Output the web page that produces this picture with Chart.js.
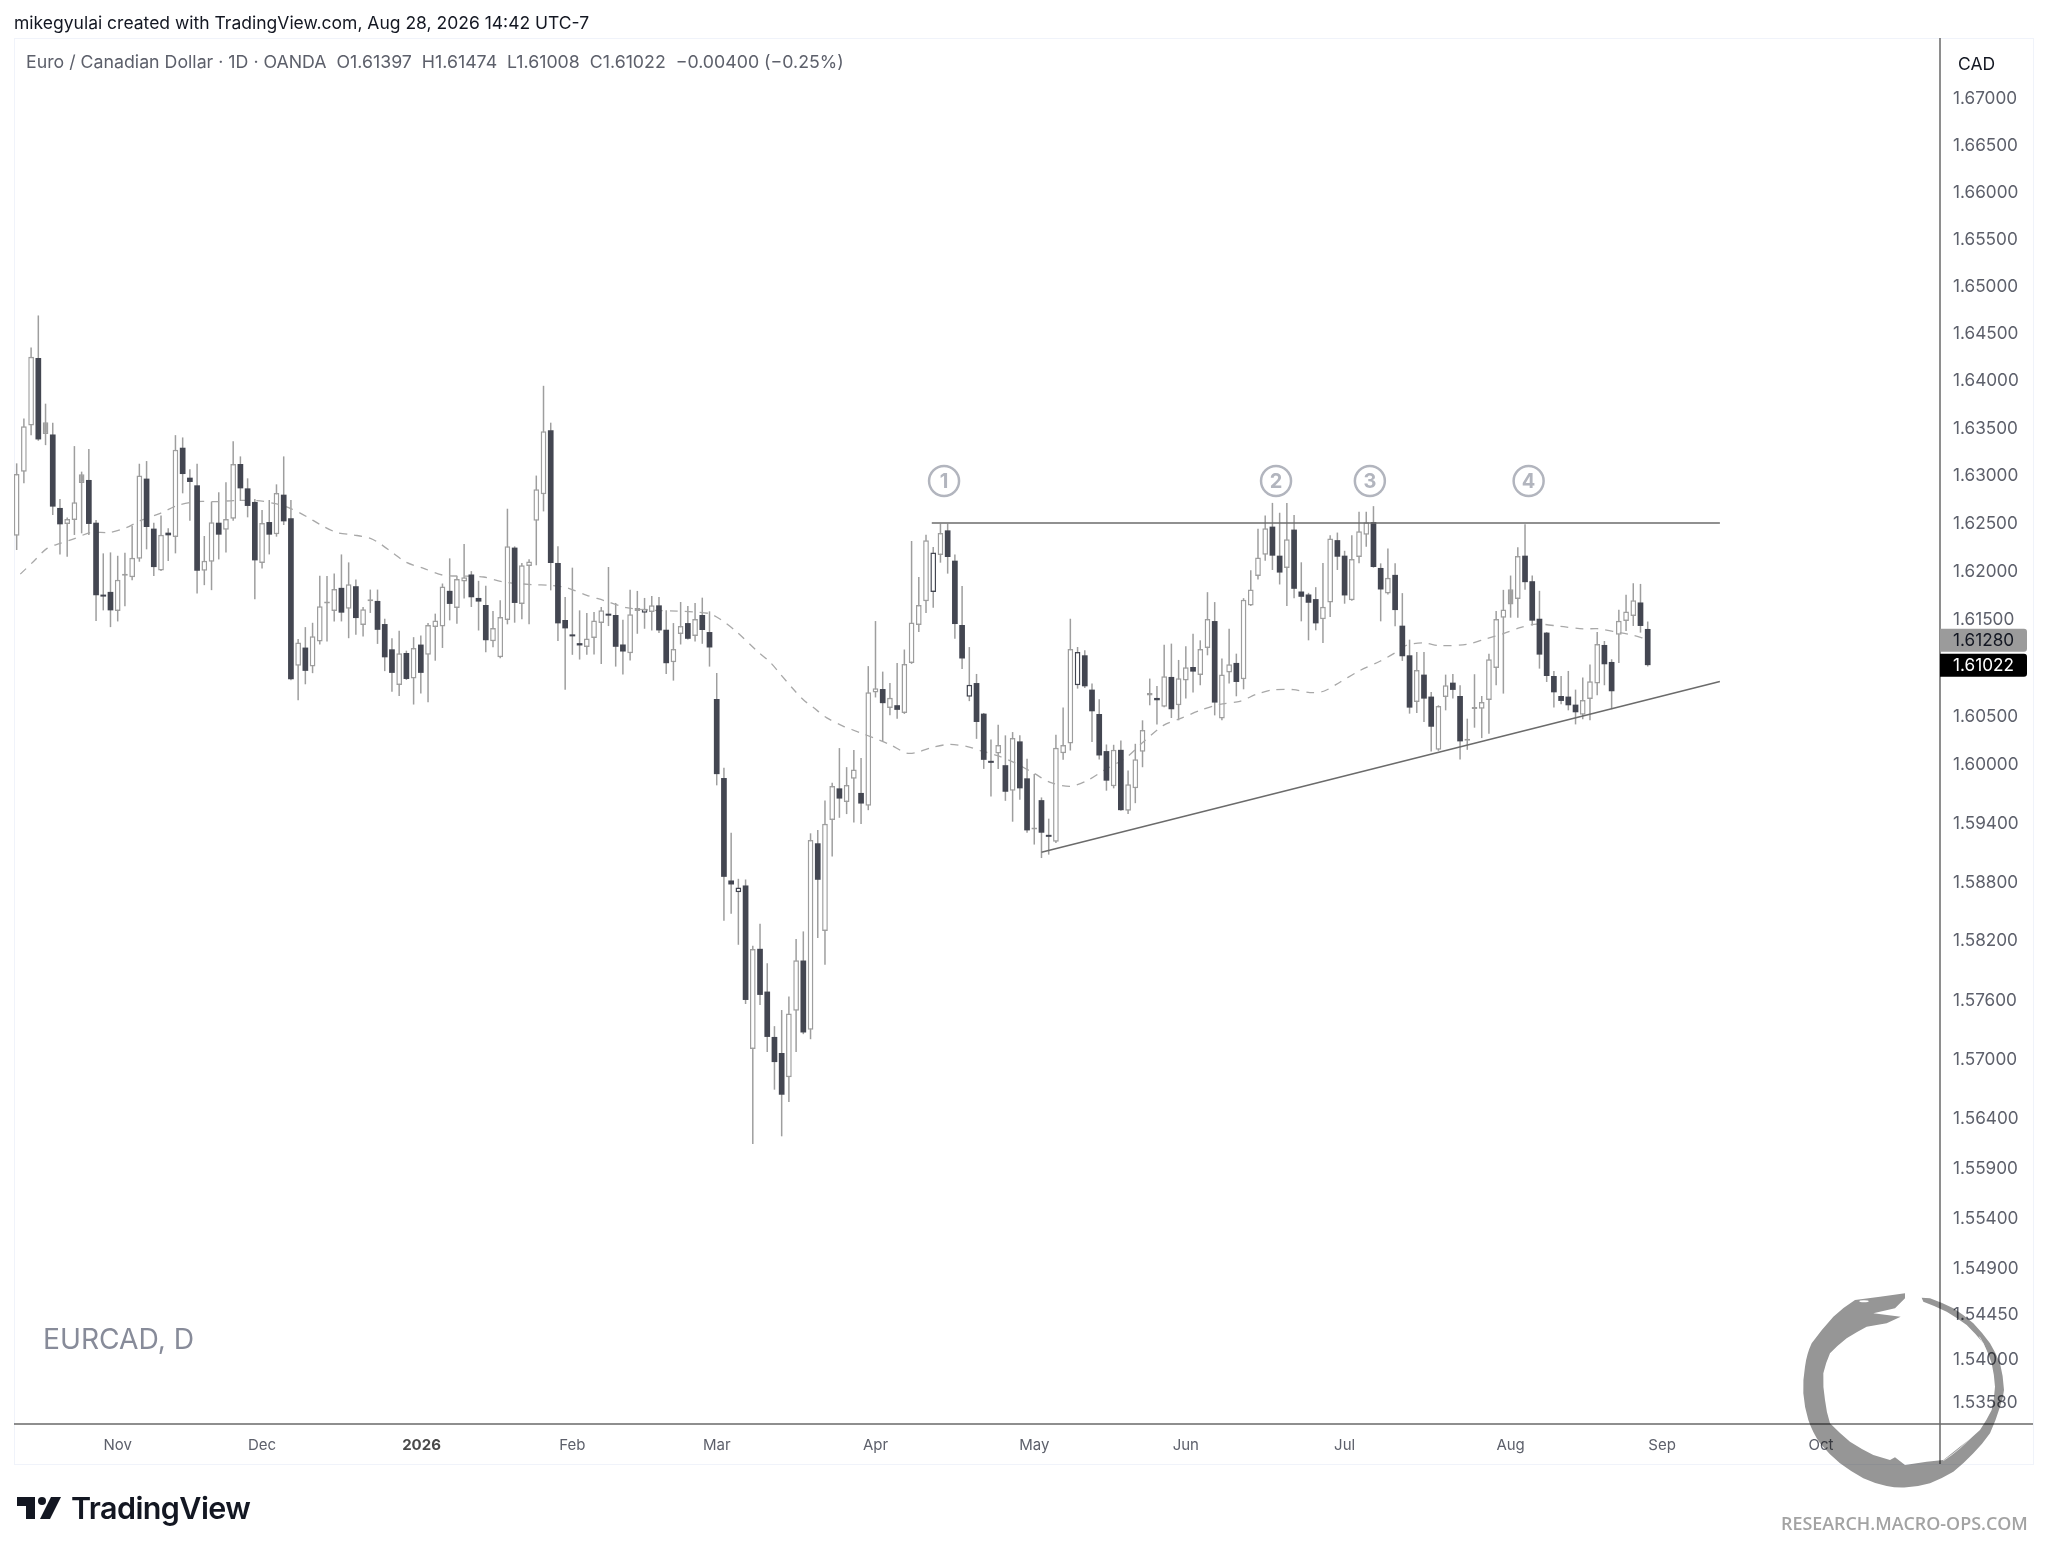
<!DOCTYPE html>
<html lang="en">

<head>
    <meta charset="UTF-8">
    <title>EURCAD, D</title>
    <script src="https://cdn.jsdelivr.net/npm/chart.js"></script>
    <style>
        html, body { margin: 0; padding: 0; background: #fff; }
        body { position: relative; width: 2048px; height: 1553px; overflow: hidden; font-family: Inter, sans-serif; }
        canvas { position: absolute; left: 0; top: 0; }
        .txt { position: absolute; white-space: nowrap; }
        #frame { position: absolute; left: 14px; top: 38px; width: 2018px; height: 1425px; border: 1px solid #f0f3fa; }
        #logo, #tvIcon { position: absolute; }
        #logo { left: 1740px; top: 1250px; mix-blend-mode: multiply; }
    </style>
</head>

<body>
    <div id="frame"></div>
    <canvas id="chart" width="2048" height="1553"></canvas>

    <div class="txt" style="left:14px;top:13px;font-size:17.5px;line-height:20px;color:#131722;">mikegyulai created with TradingView.com, Aug 28, 2026 14:42 UTC-7</div>
    <div class="txt" style="left:26px;top:52px;font-size:17.75px;line-height:20px;color:#5d606b;">Euro / Canadian Dollar · 1D · OANDA&nbsp; O1.61397&nbsp; H1.61474&nbsp; L1.61008&nbsp; C1.61022&nbsp; −0.00400 (−0.25%)</div>
    <div class="txt" style="left:1958px;top:54px;font-size:17.5px;line-height:20px;color:#131722;">CAD</div>
    <div class="txt" style="left:43px;top:1321px;font-size:28.2px;line-height:36px;color:#878b99;">EURCAD, D</div>

    <svg id="tvIcon" style="left:17px;top:1496px" width="46" height="24" viewBox="0 0 46 24">
        <path d="M0 1H18V23H9V10H0Z M44 1L33 23H23L34 1Z" fill="#131722" />
        <circle cx="25" cy="5" r="4" fill="#131722" />
    </svg>
    <div class="txt" style="left:71px;top:1488px;font-size:30.5px;line-height:40px;font-weight:600;letter-spacing:-0.6px;color:#131722;">TradingView</div>
    <div class="txt" style="left:1781px;top:1512px;font-family:'Open Sans',sans-serif;font-size:17.9px;line-height:22px;font-weight:600;color:#a3a3a3;">RESEARCH.MACRO-OPS.COM</div>

    <svg id="logo" width="308" height="303" viewBox="0 0 924 909">
        <path fill="#969696" d="M495 130 L420 140 L345 150 Q310 172 280 200 Q245 238 215 280 Q200 312 195 350 Q188 390 190 430 Q193 472 205 510 Q218 548 240 580 Q267 613 300 640 Q333 665 370 685 Q404 701 440 708 Q470 714 500 712 Q536 710 570 700 Q606 685 640 665 Q672 640 700 610 Q728 582 750 550 Q768 510 780 470 Q790 445 792 420 Q790 378 780 340 Q767 308 750 280 Q727 248 700 220 Q672 195 640 175 Q606 158 570 145 L545 143 L550 155 Q586 168 620 185 Q651 203 680 225 Q707 251 730 280 Q745 309 755 340 Q763 375 765 410 Q763 446 755 480 Q740 511 720 540 Q692 567 660 590 L610 630 L560 635 L495 645 L465 622 L450 630 L400 615 Q364 597 330 575 Q298 549 270 520 Q259 486 255 450 Q248 410 250 370 Q257 339 270 310 Q293 286 320 265 Q349 246 380 230 L440 220 L482 200 L400 190 L465 175 L495 145 Z" />
        <ellipse cx="372" cy="154" rx="14" ry="3" fill="#fff" />
        <path d="M718 260 Q770 340 745 470 Q720 560 610 632" fill="none" stroke="#fff" stroke-width="2" />
    </svg>

    <script>
        // candles, oldest first (x position = index in the arrays)
        const opens = [
            1.62368, 1.63037, 1.63521, 1.64232, 1.63431, 1.63427, 1.62657, 1.62490, 1.62531, 1.62918,
            1.62950, 1.62503, 1.61740, 1.61782, 1.61583, 1.61949, 1.61935, 1.62127, 1.62964, 1.62441,
            1.62005, 1.62399, 1.62354, 1.63288, 1.62974, 1.62894, 1.62002, 1.62096, 1.62503, 1.62430,
            1.62545, 1.63117, 1.62862, 1.62720, 1.62082, 1.62510, 1.62382, 1.62796, 1.62549, 1.61015,
            1.61204, 1.61008, 1.61266, 1.61660, 1.61583, 1.61824, 1.61608, 1.61841, 1.61437, 1.61685,
            1.61688, 1.61448, 1.61186, 1.60817, 1.61148, 1.60883, 1.61235, 1.61130, 1.61416, 1.61423,
            1.61793, 1.61615, 1.61890, 1.61963, 1.61719, 1.61646, 1.61270, 1.61104, 1.61490, 1.62243,
            1.61656, 1.62052, 1.62524, 1.62801, 1.63471, 1.62083, 1.61490, 1.61333, 1.61250, 1.61209,
            1.61302, 1.61458, 1.61542, 1.61542, 1.61236, 1.61146, 1.61583, 1.61566, 1.61573, 1.61642,
            1.61389, 1.61052, 1.61344, 1.61458, 1.61323, 1.61542, 1.61365, 1.60672, 1.59858, 1.58809,
            1.58690, 1.58758, 1.57098, 1.58113, 1.57679, 1.57220, 1.57058, 1.56813, 1.57485, 1.57994,
            1.57292, 1.59189, 1.58293, 1.59427, 1.59752, 1.59613, 1.59851, 1.59705, 1.59573, 1.60740,
            1.60775, 1.60580, 1.60608, 1.60528, 1.61045, 1.61438, 1.61684, 1.61781, 1.62166, 1.62423,
            1.62107, 1.61438, 1.60695, 1.60837, 1.60521, 1.60035, 1.60110, 1.59990, 1.59728, 1.60235,
            1.59855, 1.59331, 1.59631, 1.59266, 1.59204, 1.60114, 1.60214, 1.60814, 1.61124, 1.60769,
            1.60517, 1.60135, 1.59773, 1.60148, 1.59521, 1.59752, 1.60128, 1.60707, 1.60683, 1.60593,
            1.60900, 1.60607, 1.60862, 1.61003, 1.60921, 1.61200, 1.61479, 1.60472, 1.60945, 1.61045,
            1.60876, 1.61641, 1.61948, 1.62169, 1.62462, 1.62159, 1.62031, 1.62431, 1.61786, 1.61755,
            1.61707, 1.61497, 1.61672, 1.62321, 1.62159, 1.61696, 1.62145, 1.62376, 1.62510, 1.62031,
            1.61765, 1.61959, 1.61431, 1.61124, 1.60641, 1.60924, 1.60697, 1.60148, 1.60693, 1.60841,
            1.60703, 1.60241, 1.60569, 1.60572, 1.60662, 1.60993, 1.61514, 1.61652, 1.61707, 1.62159,
            1.61893, 1.61503, 1.61359, 1.60910, 1.60703, 1.60697, 1.60614, 1.60510, 1.60672, 1.60831,
            1.61231, 1.61055, 1.61338, 1.61479, 1.61531, 1.61672, 1.61397
        ];
        const highs = [
            1.63124, 1.63594, 1.64344, 1.64682, 1.63751, 1.63549, 1.62751, 1.62556, 1.63305, 1.63037,
            1.63274, 1.62531, 1.62183, 1.62193, 1.62158, 1.62190, 1.62472, 1.63120, 1.63148, 1.62503,
            1.62577, 1.62444, 1.63420, 1.63396, 1.63061, 1.63120, 1.62364, 1.62723, 1.62821, 1.62925,
            1.63357, 1.63197, 1.62967, 1.62751, 1.62636, 1.62740, 1.62904, 1.63197, 1.62740, 1.61294,
            1.61416, 1.61461, 1.61949, 1.61946, 1.61974, 1.62172, 1.62089, 1.61911, 1.61625, 1.61806,
            1.61806, 1.61503, 1.61301, 1.61378, 1.61172, 1.61312, 1.61329, 1.61458, 1.61556, 1.61869,
            1.62131, 1.61946, 1.62280, 1.61998, 1.61897, 1.61845, 1.61583, 1.61694, 1.62649, 1.62256,
            1.62083, 1.62121, 1.62996, 1.63939, 1.63551, 1.62256, 1.61729, 1.62034, 1.61590, 1.61562,
            1.61573, 1.61625, 1.62041, 1.61667, 1.61493, 1.61805, 1.61792, 1.61719, 1.61739, 1.61729,
            1.61590, 1.61458, 1.61677, 1.61635, 1.61667, 1.61722, 1.61580, 1.60941, 1.59963, 1.59298,
            1.58826, 1.58819, 1.58144, 1.58368, 1.57967, 1.57329, 1.57492, 1.57628, 1.58212, 1.58290,
            1.59291, 1.59325, 1.59627, 1.59810, 1.60166, 1.59970, 1.60146, 1.60065, 1.61012, 1.61479,
            1.60955, 1.60837, 1.61045, 1.61184, 1.62312, 1.61937, 1.62378, 1.62250, 1.62492, 1.62492,
            1.62170, 1.61844, 1.61209, 1.60931, 1.60528, 1.60255, 1.60407, 1.60297, 1.60331, 1.60297,
            1.60055, 1.59900, 1.59659, 1.59441, 1.60303, 1.60583, 1.61503, 1.61210, 1.61176, 1.60831,
            1.60669, 1.60203, 1.60200, 1.60245, 1.59935, 1.60210, 1.60452, 1.60883, 1.60807, 1.61234,
            1.61245, 1.61076, 1.61217, 1.61348, 1.61279, 1.61779, 1.61676, 1.61090, 1.61400, 1.61141,
            1.61717, 1.62007, 1.62441, 1.62579, 1.62710, 1.62607, 1.62710, 1.62583, 1.62090, 1.61772,
            1.61831, 1.62083, 1.62372, 1.62400, 1.62210, 1.62372, 1.62617, 1.62617, 1.62676, 1.62079,
            1.62234, 1.62079, 1.61769, 1.61286, 1.61159, 1.61159, 1.60745, 1.60607, 1.60924, 1.60931,
            1.60814, 1.60469, 1.60928, 1.60703, 1.61141, 1.61583, 1.61803, 1.61952, 1.62248, 1.62486,
            1.61952, 1.61793, 1.61365, 1.60962, 1.60910, 1.60962, 1.60769, 1.60893, 1.61028, 1.61365,
            1.61272, 1.61083, 1.61596, 1.61752, 1.61872, 1.61865, 1.61474
        ];
        const lows = [
            1.62218, 1.62915, 1.63420, 1.63361, 1.63315, 1.62584, 1.62172, 1.62148, 1.62375, 1.62392,
            1.62375, 1.61479, 1.61590, 1.61416, 1.61475, 1.61632, 1.61904, 1.62096, 1.62225, 1.61946,
            1.61998, 1.62103, 1.62183, 1.62810, 1.62524, 1.61765, 1.61852, 1.61800, 1.62120, 1.62193,
            1.62524, 1.62730, 1.62559, 1.61705, 1.62026, 1.62172, 1.62357, 1.62479, 1.60866, 1.60660,
            1.60824, 1.60939, 1.61235, 1.61266, 1.61475, 1.61475, 1.61301, 1.61336, 1.61319, 1.61563,
            1.61242, 1.60960, 1.60747, 1.60702, 1.60869, 1.60615, 1.60730, 1.60639, 1.61068, 1.61200,
            1.61486, 1.61451, 1.61712, 1.61625, 1.61381, 1.61155, 1.61207, 1.61094, 1.61445, 1.61462,
            1.61497, 1.61445, 1.62059, 1.62621, 1.61798, 1.61271, 1.60768, 1.61129, 1.61080, 1.61129,
            1.61132, 1.61035, 1.61427, 1.61007, 1.60924, 1.61070, 1.61347, 1.61399, 1.61382, 1.61354,
            1.60931, 1.60862, 1.61236, 1.61288, 1.61268, 1.61243, 1.61007, 1.59783, 1.58398, 1.58469,
            1.58154, 1.57553, 1.56141, 1.57543, 1.57068, 1.56688, 1.56219, 1.56565, 1.57068, 1.57248,
            1.57197, 1.58222, 1.57950, 1.59053, 1.59450, 1.59488, 1.59403, 1.59386, 1.59528, 1.60688,
            1.60237, 1.60504, 1.60469, 1.60518, 1.61035, 1.61365, 1.61562, 1.61618, 1.62086, 1.61972,
            1.61295, 1.60983, 1.60650, 1.60261, 1.59952, 1.59669, 1.59952, 1.59624, 1.59410, 1.59635,
            1.59297, 1.59176, 1.59038, 1.59073, 1.59193, 1.60045, 1.60141, 1.60779, 1.60786, 1.60228,
            1.60048, 1.59728, 1.59752, 1.59521, 1.59490, 1.59600, 1.59969, 1.60607, 1.60410, 1.60586,
            1.60476, 1.60452, 1.60676, 1.60738, 1.60814, 1.61124, 1.60503, 1.60452, 1.60831, 1.60700,
            1.60772, 1.61634, 1.61910, 1.62107, 1.62010, 1.61859, 1.61634, 1.61717, 1.61476, 1.61279,
            1.61383, 1.61252, 1.61521, 1.62010, 1.61659, 1.61690, 1.62079, 1.62252, 1.62034, 1.61476,
            1.61755, 1.61424, 1.61066, 1.60521, 1.60528, 1.60435, 1.60131, 1.60138, 1.60555, 1.60676,
            1.60048, 1.60148, 1.60376, 1.60269, 1.60314, 1.60814, 1.60728, 1.61514, 1.61514, 1.61803,
            1.61434, 1.60986, 1.60848, 1.60583, 1.60617, 1.60555, 1.60410, 1.60462, 1.60452, 1.60710,
            1.60814, 1.60566, 1.61045, 1.61376, 1.61428, 1.61359, 1.61008
        ];
        const closes = [
            1.63012, 1.63514, 1.64246, 1.63375, 1.63556, 1.62671, 1.62486, 1.62542, 1.62716, 1.63009,
            1.62490, 1.61747, 1.61733, 1.61590, 1.61908, 1.61956, 1.62138, 1.62998, 1.62458, 1.62040,
            1.62378, 1.62371, 1.63267, 1.63012, 1.62929, 1.62002, 1.62106, 1.62507, 1.62378, 1.62542,
            1.63117, 1.62862, 1.62678, 1.62110, 1.62500, 1.62378, 1.62814, 1.62517, 1.60876, 1.61256,
            1.60963, 1.61322, 1.61632, 1.61678, 1.61813, 1.61566, 1.61862, 1.61510, 1.61601, 1.61695,
            1.61388, 1.61103, 1.60942, 1.61144, 1.60879, 1.61200, 1.60942, 1.61437, 1.61486, 1.61838,
            1.61657, 1.61915, 1.61935, 1.61726, 1.61681, 1.61280, 1.61406, 1.61521, 1.62256, 1.61667,
            1.62059, 1.62097, 1.62853, 1.63461, 1.62083, 1.61455, 1.61403, 1.61320, 1.61226, 1.61299,
            1.61486, 1.61590, 1.61535, 1.61212, 1.61163, 1.61549, 1.61615, 1.61608, 1.61642, 1.61382,
            1.61042, 1.61188, 1.61427, 1.61295, 1.61500, 1.61386, 1.61205, 1.59898, 1.58846, 1.58768,
            1.58738, 1.57594, 1.58110, 1.57645, 1.57220, 1.56966, 1.56637, 1.57458, 1.57998, 1.57265,
            1.59223, 1.58816, 1.59389, 1.59776, 1.59647, 1.59786, 1.59946, 1.59596, 1.60743, 1.60782,
            1.60629, 1.60685, 1.60560, 1.61035, 1.61465, 1.61646, 1.62319, 1.62191, 1.62395, 1.62145,
            1.61448, 1.61091, 1.60820, 1.60435, 1.60045, 1.60014, 1.60197, 1.59717, 1.60269, 1.59752,
            1.59321, 1.59342, 1.59297, 1.59255, 1.60169, 1.60197, 1.61190, 1.61159, 1.60803, 1.60545,
            1.60090, 1.59831, 1.60148, 1.59528, 1.59793, 1.60052, 1.60352, 1.60735, 1.60659, 1.60907,
            1.60566, 1.60886, 1.61000, 1.60955, 1.61190, 1.61500, 1.60635, 1.60924, 1.61031, 1.60848,
            1.61700, 1.61807, 1.62141, 1.62445, 1.62159, 1.61983, 1.62331, 1.61814, 1.61731, 1.61669,
            1.61455, 1.61628, 1.62338, 1.62148, 1.61745, 1.62124, 1.62414, 1.62507, 1.62041, 1.61807,
            1.61928, 1.61593, 1.61114, 1.60583, 1.60972, 1.60676, 1.60386, 1.60600, 1.60814, 1.60766,
            1.60235, 1.60252, 1.60576, 1.60641, 1.61083, 1.61500, 1.61600, 1.61810, 1.62155, 1.61883,
            1.61483, 1.61131, 1.60910, 1.60741, 1.60652, 1.60607, 1.60535, 1.60662, 1.60855, 1.61241,
            1.61031, 1.60752, 1.61483, 1.61579, 1.61696, 1.61428, 1.61022
        ];

        // some up candles are drawn differently in the original
        const greyFilled = [4, 9, 157, 207];
        const darkOutlined = [87, 100, 127, 132, 147];

        // moving average, read at these candle indexes
        const maIndex = [
            0.5, 2.3, 4.2, 6, 8.1, 10.2, 12.9, 15.2, 17.1, 19.9, 22.2, 24.9, 27.7, 30, 33.3, 36, 37.9, 40.2, 42, 44.3,
            46.7, 49, 50.3, 52.2, 54, 56.4, 59.1, 62.4, 64.7, 67.4, 71.6, 73.9, 76.2, 79, 81.3, 84.5, 88.2, 91.5, 93.8, 96,
            97.5, 99.8, 102.5, 104.4, 105.8, 107.6, 109, 110.4, 112.2, 114.5, 116.9, 118.7, 121, 123.3, 124.7, 127, 129.3, 131.6, 133.5, 135.8,
            138.1, 140.9, 143.2, 146, 148.3, 150.6, 153.8, 156.1, 158.9, 161.2, 164, 166.7, 169.5, 171.8, 174.1, 176.9, 179.2, 181.1, 183.4, 186.2,
            188.9, 191.2, 192.6, 194.9, 197.2, 200.9, 203.7, 206, 208.3, 210.6, 213.9, 217.1, 219, 221.7, 224, 225.6
        ];
        const maValues = [
            1.61967, 1.62096, 1.62235, 1.62287, 1.62340, 1.62399, 1.62402, 1.62451, 1.62524, 1.62601, 1.62681, 1.62723, 1.62723, 1.62734, 1.62734, 1.62699, 1.62653, 1.62566, 1.62486, 1.62402,
            1.62375, 1.62340, 1.62287, 1.62183, 1.62089, 1.62026, 1.61956, 1.61946, 1.61937, 1.61885, 1.61857, 1.61850, 1.61826, 1.61746, 1.61694, 1.61618, 1.61590, 1.61583, 1.61573, 1.61556,
            1.61497, 1.61365, 1.61174, 1.61052, 1.60931, 1.60775, 1.60664, 1.60584, 1.60480, 1.60393, 1.60324, 1.60272, 1.60202, 1.60115, 1.60121, 1.60176, 1.60204, 1.60183, 1.60141, 1.60090,
            1.60021, 1.59910, 1.59814, 1.59773, 1.59831, 1.59935, 1.60072, 1.60228, 1.60400, 1.60469, 1.60555, 1.60617, 1.60648, 1.60721, 1.60766, 1.60769, 1.60738, 1.60752, 1.60848, 1.60969,
            1.61062, 1.61159, 1.61228, 1.61252, 1.61224, 1.61238, 1.61297, 1.61348, 1.61410, 1.61448, 1.61424, 1.61397, 1.61400, 1.61365, 1.61331, 1.61297
        ];

        // drawn trend lines
        const resistanceX = [126.8, 236];
        const resistanceY = [1.625, 1.625];
        const supportX = [142, 236];
        const supportY = [1.59097, 1.60852];

        // numbered touches
        const noteLabels = ['1', '2', '3', '4'];
        const noteX = [128.5, 174.5, 187.5, 209.5];
        const noteY = [1.6294, 1.6294, 1.6294, 1.6294];

        // price tags on the axis
        const maTag = 1.61280;
        const lastTag = 1.61022;

        // axes
        const priceTicks = [
            1.67, 1.665, 1.66, 1.655, 1.65, 1.645, 1.64, 1.635, 1.63, 1.625, 1.62, 1.615, 1.605,
            1.6, 1.594, 1.588, 1.582, 1.576, 1.57, 1.564, 1.559, 1.554, 1.549, 1.5445, 1.54, 1.5358
        ];
        const monthTicks = [14, 34, 56.1, 77, 97, 119, 141, 162, 184, 207, 228, 250];
        const monthLabels = ['Nov', 'Dec', '2026', 'Feb', 'Mar', 'Apr', 'May', 'Jun', 'Jul', 'Aug', 'Sep', 'Oct'];

        const DARK = '#434651';
        const GREY = '#9e9e9e';
        const AXIS = '#6a6a6a';

        function toPoints(xs, ys) {
            return xs.map((x, i) => ({ x: x, y: ys[i] }));
        }

        // split candles up / down so that the average can run between them
        const wicks = [], upBodies = [], downBodies = [];
        opens.forEach((o, i) => {
            wicks.push({ x: i, y: [lows[i], highs[i]] });
            if (closes[i] >= o) {
                upBodies.push({ x: i, y: [o, closes[i]] });
            } else {
                downBodies.push({ x: i, y: [o, closes[i]] });
            }
        });

        const barDefaults = { type: 'bar', grouped: false, borderSkipped: false, inflateAmount: 0 };

        // axis lines, tags and the digits inside the circles
        const overlay = {
            id: 'overlay',
            afterDraw(chart) {
                const c = chart.ctx, a = chart.chartArea, y = chart.scales.y, x = chart.scales.x;

                c.save();
                c.strokeStyle = AXIS;
                c.lineWidth = 1.5;
                c.beginPath();
                c.moveTo(a.right, a.top);
                c.lineTo(a.right, a.bottom + 40);
                c.moveTo(a.left, a.bottom);
                c.lineTo(a.right + 93, a.bottom);
                c.stroke();

                c.font = '17.2px Inter';
                c.textBaseline = 'middle';
                [[maTag, '#9b9b9b', '#131722'], [lastTag, '#000000', '#ffffff']].forEach(tag => {
                    const py = y.getPixelForValue(tag[0]);
                    c.fillStyle = tag[1];
                    c.beginPath();
                    c.roundRect(a.right, py - 11.5, 87, 23, [0, 3, 3, 0]);
                    c.fill();
                    c.fillStyle = tag[2];
                    c.fillText(tag[0].toFixed(5), a.right + 13, py + 0.5);
                });

                c.font = 'bold 20px Inter';
                c.textAlign = 'center';
                c.fillStyle = '#b2b5be';
                noteLabels.forEach((t, i) => {
                    c.fillText(t, x.getPixelForValue(noteX[i]), y.getPixelForValue(noteY[i]) + 1);
                });
                c.restore();
            }
        };

        new Chart(document.getElementById('chart').getContext('2d'), {
            data: {
                datasets: [
                    { ...barDefaults, label: 'wicks', data: wicks, barThickness: 1.5, backgroundColor: GREY, order: 7 },
                    {
                        ...barDefaults, label: 'up', data: upBodies, barThickness: 5.7, minBarLength: 2, borderWidth: 1.5, order: 6,
                        backgroundColor: ctx => greyFilled.includes(ctx.raw.x) ? GREY : '#ffffff',
                        borderColor: ctx => darkOutlined.includes(ctx.raw.x) ? DARK : GREY
                    },
                    {
                        type: 'line', label: 'MA', data: toPoints(maIndex, maValues), borderColor: '#a8a8a8', borderWidth: 1.3,
                        borderDash: [8, 7], pointRadius: 0, tension: 0.3, order: 5
                    },
                    { ...barDefaults, label: 'down', data: downBodies, barThickness: 5.7, minBarLength: 2, backgroundColor: DARK, order: 4 },
                    { type: 'line', label: 'resistance', data: toPoints(resistanceX, resistanceY), borderColor: '#6b6b6b', borderWidth: 1.5, pointRadius: 0, order: 3 },
                    { type: 'line', label: 'support', data: toPoints(supportX, supportY), borderColor: '#6b6b6b', borderWidth: 1.5, pointRadius: 0, order: 2 },
                    {
                        type: 'scatter', label: 'notes', data: toPoints(noteX, noteY), pointRadius: 15, pointBorderWidth: 2.5,
                        pointBorderColor: '#b2b5be', pointBackgroundColor: '#ffffff', order: 1
                    }
                ]
            },
            options: {
                responsive: false,
                devicePixelRatio: 1,
                animation: false,
                // autoPadding would widen the left margin because of the note circles
                layout: { autoPadding: false, padding: { left: 14, top: 38, right: 15, bottom: 89 } },
                plugins: { legend: { display: false }, tooltip: { enabled: false } },
                scales: {
                    x: {
                        type: 'linear',
                        offset: false,
                        min: -0.37,
                        max: 266.5,
                        grid: { display: false },
                        border: { display: false },
                        afterFit: s => { s.height = 40; },
                        afterBuildTicks: s => { s.ticks = monthTicks.map(v => ({ value: v })); },
                        ticks: {
                            autoSkip: false,
                            maxRotation: 0,
                            padding: 4,
                            color: ctx => ctx.index === 2 ? '#4a4a4a' : '#5d606b',
                            font: ctx => ({ family: 'Inter', size: 15, weight: ctx.index === 2 ? 'bold' : 'normal' }),
                            callback: (v, i) => monthLabels[i]
                        }
                    },
                    y: {
                        type: 'logarithmic',
                        position: 'right',
                        min: 1.53357,
                        max: 1.67645,
                        grid: { display: false },
                        border: { display: false },
                        afterFit: s => { s.width = 93; },
                        afterBuildTicks: s => { s.ticks = priceTicks.map(v => ({ value: v })); },
                        ticks: {
                            autoSkip: false,
                            padding: 5,
                            labelOffset: 1,
                            color: '#5d606b',
                            font: { family: 'Inter', size: 17.2 },
                            callback: v => v.toFixed(5)
                        }
                    }
                }
            },
            plugins: [overlay]
        });
    </script>
</body>

</html>
